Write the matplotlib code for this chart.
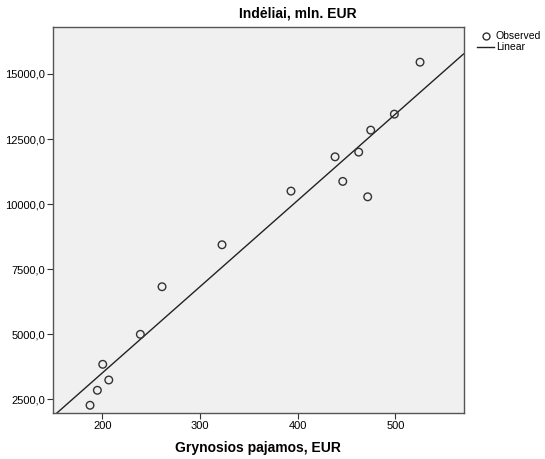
import numpy as np
import matplotlib
matplotlib.use("Agg")
import matplotlib.pyplot as plt
from matplotlib.lines import Line2D

plt.rcParams['font.family'] = ['Liberation Sans', 'DejaVu Sans']

# net income (EUR) vs deposits (mln. EUR)
income = [187.4, 194.9, 200.4, 206.6, 238.9, 261.1, 322.5, 393.1, 438.2, 446.1,
          462.4, 471.6, 474.7, 498.9, 525.2]
deposits = [2270, 2846, 3844, 3241, 4996, 6824, 8437, 10499, 11816, 10872,
            11997, 10280, 12842, 13456, 15453]

x_ticks = [200, 300, 400, 500]
y_ticks = [2500, 5000, 7500, 10000, 12500, 15000]

slope, intercept = np.polyfit(income, deposits, 1)

fig = plt.figure(figsize=(5.45, 4.59), dpi=100)
ax = fig.add_axes([0.0978, 0.1009, 0.7527, 0.8403])
ax.set_facecolor('#f0f0f0')

xlim = (149.8, 569.7)
ylim = (1985, 16805)
xs = np.array(xlim)
ax.plot(xs, slope * xs + intercept, color='#222222', lw=1.0, zorder=2)
ax.scatter(income, deposits, s=30, facecolors='none', edgecolors='#333333',
           linewidths=1.0, zorder=3)

ax.set_xlim(*xlim)
ax.set_ylim(*ylim)
ax.set_xticks(x_ticks)
ax.set_yticks(y_ticks)
ax.set_yticklabels([f"{v:.1f}".replace('.', ',') for v in y_ticks])
ax.tick_params(labelsize=8, length=4, width=0.8, color='#333333', pad=2)
for s in ax.spines.values():
    s.set_color('#555555')
    s.set_linewidth(1.0)

ax.set_xlabel('Grynosios pajamos, EUR', fontsize=10, fontweight='bold', labelpad=7)
fig.text(0.547, 0.9695, 'Indėliai, mln. EUR', ha='center', va='center',
         fontsize=10, fontweight='bold')

handles = [Line2D([], [], marker='o', ls='none', mfc='none', mec='#333333', ms=5),
           Line2D([], [], color='#222222', lw=1.0)]
fig.legend(handles, ['Observed', 'Linear'], loc='upper left',
           bbox_to_anchor=(0.866, 0.943), frameon=False, fontsize=7.5,
           handlelength=1.6, handletextpad=0.2, labelspacing=0.1, borderpad=0)

fig.savefig('out.png', dpi=100)
